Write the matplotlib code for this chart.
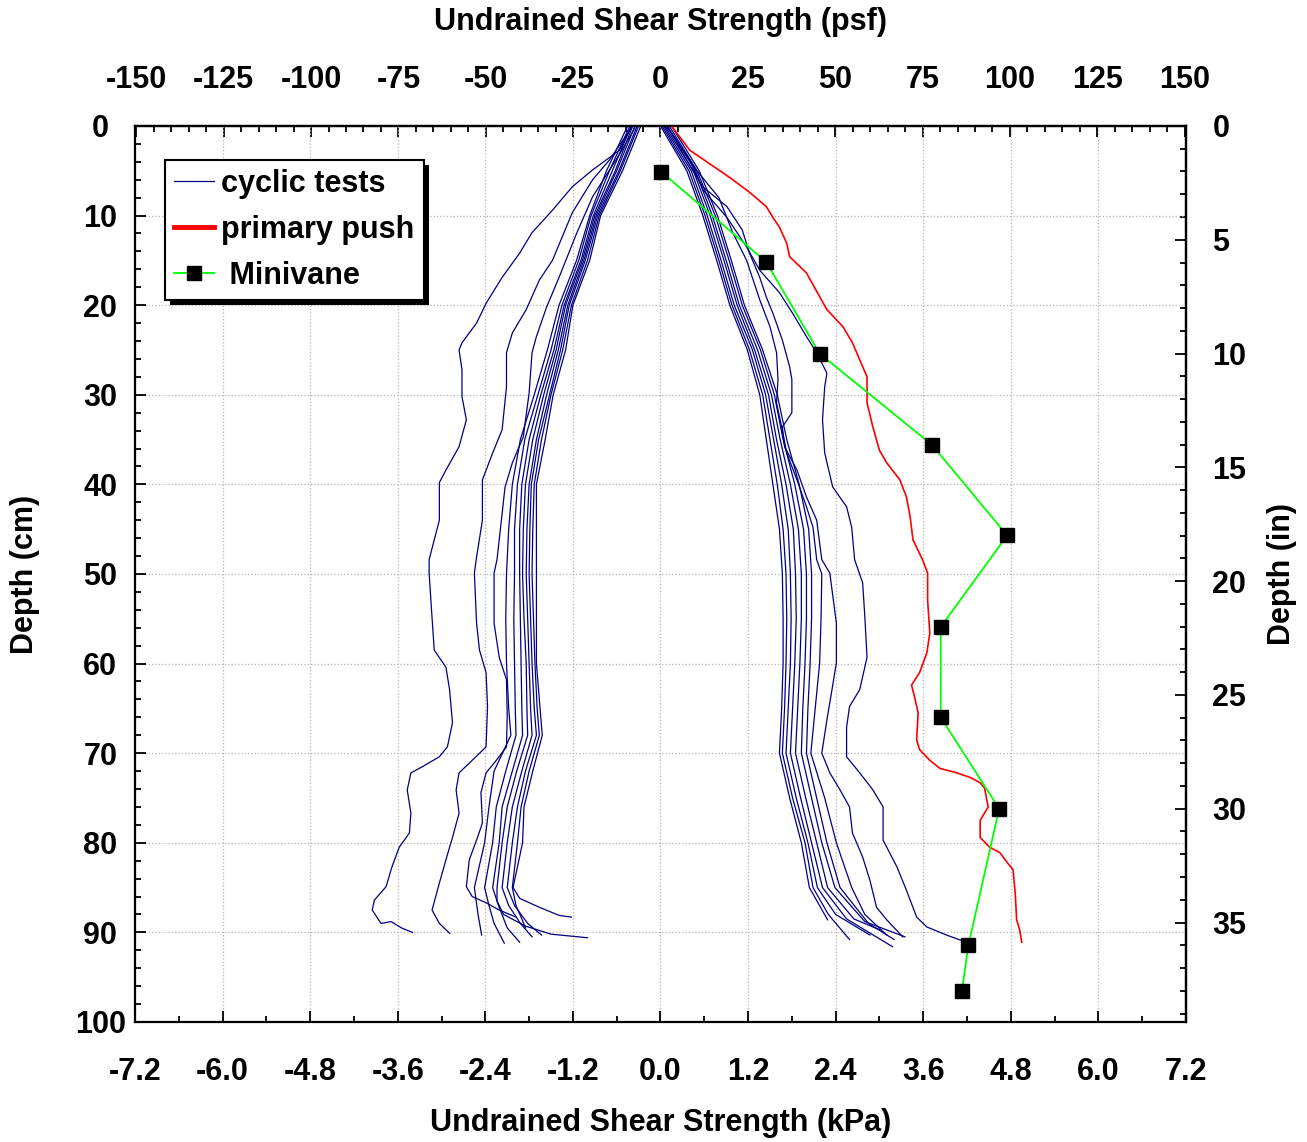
"""Undrained shear strength profiles: cyclic tests, primary push and minivane.

Depth in cm (left) / in (right), strength in kPa (bottom) / psf (top).
Output: out.png
"""

import matplotlib

matplotlib.use("Agg")
import matplotlib.pyplot as plt
from matplotlib.patches import Rectangle
from matplotlib.ticker import MultipleLocator, FormatStrFormatter

KPA_TO_PSF = 20.885
CM_PER_IN = 2.54
NAVY = "#000080"

# ---- primary push (depth cm, kPa) ----
push_depth = [0.1, 2.7, 5.2, 6.0, 7.4, 9.0, 10.2, 11.3, 13.1, 14.6, 16.4, 18.6,
              20.5, 22.4, 24.2, 26.1, 28.0, 30.9, 33.6, 36.2, 37.6, 39.5, 41.4,
              43.6, 46.2, 48.4, 49.9, 52.9, 56.6, 58.8, 61.0, 62.4, 63.7, 65.5,
              68.5, 69.6, 70.8, 71.7, 72.2, 72.7, 73.3, 73.9, 76.0, 77.5, 79.4,
              80.5, 81.1, 82.3, 83.0, 85.6, 88.6, 89.7, 91.1]
push_kpa = [0.16, 0.40, 0.85, 0.99, 1.22, 1.45, 1.54, 1.63, 1.73, 1.77, 2.00, 2.15,
            2.28, 2.50, 2.63, 2.73, 2.83, 2.83, 2.91, 3.00, 3.10, 3.28, 3.37,
            3.42, 3.46, 3.59, 3.66, 3.66, 3.69, 3.65, 3.55, 3.44, 3.48, 3.53,
            3.51, 3.55, 3.69, 3.83, 4.06, 4.24, 4.38, 4.44, 4.49, 4.38, 4.38,
            4.51, 4.65, 4.76, 4.83, 4.86, 4.88, 4.92, 4.95]

# ---- minivane ----
vane_depth = [5.1, 15.2, 25.4, 35.6, 45.7, 55.9, 66.0, 76.2, 91.4, 96.5]
vane_kpa = [0.01, 1.45, 2.18, 3.72, 4.75, 3.84, 3.84, 4.64, 4.22, 4.13]

# ---- cyclic tests, pull side (depth cm, kPa) ----
pull_1 = [(0.1, -0.40), (2.7, -0.56), (4.9, -0.93), (6.8, -1.21), (9.4, -1.48),
          (11.9, -1.76), (14.2, -1.93), (16.9, -2.17), (19.8, -2.39), (22.0, -2.52),
          (24.2, -2.72), (25.0, -2.76), (27.2, -2.72), (30.2, -2.72), (32.8, -2.66),
          (35.8, -2.76), (38.4, -2.94), (39.8, -3.03), (44.0, -3.03), (48.4, -3.17),
          (49.9, -3.17), (53.7, -3.14), (58.5, -3.10), (60.4, -2.94), (62.9, -2.89),
          (66.6, -2.85), (69.3, -2.92), (70.4, -3.03), (71.5, -3.26), (72.2, -3.42),
          (74.1, -3.47), (76.7, -3.42), (78.9, -3.44), (80.5, -3.58), (82.7, -3.68),
          (84.9, -3.76), (86.4, -3.92), (87.5, -3.95), (89.0, -3.83), (88.8, -3.69),
          (89.5, -3.55), (90.0, -3.40)]
pull_2 = [(0.2, -0.40), (3.8, -0.70), (6.0, -0.93), (9.7, -1.21), (15.0, -1.48),
          (17.2, -1.66), (20.5, -1.84), (23.1, -2.03), (25.3, -2.11), (29.1, -2.11),
          (33.9, -2.17), (36.5, -2.30), (39.5, -2.44), (44.0, -2.44), (48.1, -2.52),
          (49.9, -2.55), (55.5, -2.52), (58.5, -2.48), (61.0, -2.39), (64.8, -2.37),
          (69.3, -2.39), (70.8, -2.58), (72.2, -2.76), (74.1, -2.80), (76.7, -2.76),
          (79.4, -2.85), (81.9, -2.94), (84.5, -3.03), (87.5, -3.13), (89.0, -3.03),
          (90.1, -2.89)]
pull_3 = [(0.2, -0.35), (3.0, -0.55), (7.9, -0.93), (12.0, -1.15), (16.9, -1.39),
          (20.2, -1.56), (23.5, -1.70), (25.3, -1.76), (29.8, -1.80), (34.7, -1.88),
          (37.6, -2.03), (40.3, -2.13), (44.0, -2.18), (48.4, -2.24), (49.9, -2.28),
          (55.5, -2.28), (59.3, -2.21), (61.8, -2.11), (65.9, -2.10), (69.3, -2.11),
          (70.8, -2.25), (72.2, -2.39), (74.4, -2.46), (77.8, -2.44), (79.7, -2.52),
          (81.9, -2.62), (84.9, -2.66), (86.0, -2.58), (86.7, -2.39), (87.5, -2.21),
          (88.3, -1.98)]

# tight bundle of pull curves on a shared depth grid, then each one's tail
pull_grid = [0, 5, 10, 15, 20, 25, 30, 35, 40, 45, 50, 55, 60, 65, 68, 72, 76, 80, 85]
pull_b1 = [-0.45, -0.74, -0.97, -1.15, -1.39, -1.55, -1.73, -1.92, -2.03, -2.08,
           -2.11, -2.12, -2.11, -2.08, -2.05, -2.28, -2.35, -2.41, -2.55]
pull_b2 = [-0.42, -0.70, -0.95, -1.12, -1.35, -1.50, -1.68, -1.86, -1.96, -2.00,
           -2.00, -2.01, -2.00, -1.99, -1.98, -2.12, -2.25, -2.30, -2.41]
pull_b3 = [-0.40, -0.66, -0.92, -1.09, -1.32, -1.46, -1.64, -1.80, -1.90, -1.93,
           -1.93, -1.92, -1.91, -1.90, -1.89, -2.03, -2.17, -2.21, -2.30]
pull_b4 = [-0.38, -0.62, -0.90, -1.07, -1.30, -1.43, -1.60, -1.75, -1.85, -1.88,
           -1.89, -1.87, -1.84, -1.83, -1.82, -1.97, -2.10, -2.17, -2.24]
pull_b5 = [-0.35, -0.60, -0.88, -1.05, -1.27, -1.40, -1.56, -1.70, -1.80, -1.83,
           -1.84, -1.82, -1.80, -1.78, -1.76, -1.90, -2.03, -2.10, -2.17]
pull_b6 = [-0.32, -0.57, -0.86, -1.03, -1.25, -1.37, -1.52, -1.67, -1.77, -1.79,
           -1.80, -1.78, -1.76, -1.73, -1.70, -1.85, -1.96, -2.03, -2.10]
pull_b7 = [-0.30, -0.55, -0.84, -1.00, -1.22, -1.34, -1.50, -1.63, -1.73, -1.75,
           -1.76, -1.74, -1.72, -1.69, -1.66, -1.80, -1.91, -1.96, -2.03]
pull_b8 = [-0.27, -0.52, -0.82, -0.97, -1.20, -1.30, -1.47, -1.58, -1.70, -1.70,
           -1.70, -1.70, -1.70, -1.65, -1.62, -1.75, -1.87, -1.89, -2.02]
pull_tails = [
    [(88.0, -2.50), (90.3, -2.45)],
    [(87.0, -2.35), (89.0, -2.28), (91.2, -2.14)],
    [(87.0, -2.22), (89.5, -2.10), (91.1, -1.93)],
    [(86.5, -2.24), (88.0, -2.15), (89.3, -1.85), (90.2, -1.50), (90.6, -1.00)],
    [(87.0, -2.08), (89.0, -1.92), (90.5, -1.76)],
    [(87.0, -2.00), (89.0, -1.82), (90.3, -1.63)],
    [(87.0, -1.98), (88.5, -1.90), (89.5, -1.85)],
    [(86.2, -1.93), (87.2, -1.66), (88.1, -1.39), (88.3, -1.22)],
]

# ---- cyclic tests, push side ----
push_1 = [(0.1, 0.05), (0.4, 0.12), (3.8, 0.40), (7.1, 0.58), (10.2, 0.91),
          (13.5, 1.18), (16.1, 1.36), (18.6, 1.63), (20.9, 1.81), (23.5, 2.00),
          (25.3, 2.14), (27.6, 2.28), (29.1, 2.25), (32.8, 2.22), (36.5, 2.25),
          (40.3, 2.36), (42.5, 2.55), (44.8, 2.62), (48.4, 2.66), (51.0, 2.77),
          (54.8, 2.80), (59.3, 2.83), (62.9, 2.73), (64.8, 2.59), (67.1, 2.55),
          (70.4, 2.55), (72.2, 2.73), (74.1, 2.91), (76.0, 3.05), (79.7, 3.05),
          (82.7, 3.24), (85.3, 3.37), (88.3, 3.51), (89.4, 3.65), (90.3, 3.92),
          (91.1, 4.19)]
push_2 = [(0.1, 0.10), (4.4, 0.40), (6.8, 0.58), (9.0, 0.91), (11.6, 1.12),
          (14.2, 1.22), (16.9, 1.36), (19.1, 1.45), (20.9, 1.54), (23.9, 1.67),
          (26.9, 1.77), (28.3, 1.80), (32.0, 1.80), (33.6, 1.67), (35.8, 1.70),
          (38.4, 1.87), (41.4, 2.00), (44.0, 2.14), (48.4, 2.21), (49.9, 2.32),
          (55.5, 2.41), (59.9, 2.41), (62.9, 2.35), (66.3, 2.28), (70.0, 2.21),
          (72.2, 2.32), (74.1, 2.46), (76.0, 2.59), (78.9, 2.63), (81.6, 2.77),
          (84.2, 2.87), (87.2, 2.96), (88.6, 3.10), (90.5, 3.32)]
push_3 = [(0.0, 0.08), (5.0, 0.50), (8.0, 0.80), (11.9, 0.99), (15.0, 1.18),
          (19.4, 1.36), (22.4, 1.50), (25.3, 1.59), (28.3, 1.61), (30.9, 1.59),
          (33.6, 1.66), (36.5, 1.73), (39.5, 1.87), (42.5, 2.00), (44.8, 2.09),
          (48.4, 2.14), (50.0, 2.21), (55.0, 2.20), (60.0, 2.18), (65.0, 2.12),
          (70.0, 2.06), (75.0, 2.25), (80.0, 2.41), (85.0, 2.62), (88.0, 2.80),
          (90.3, 3.10)]

push_grid = [0, 5, 10, 15, 20, 25, 30, 35, 40, 45, 50, 55, 60, 65, 70, 75, 80, 85]
push_b1 = [0.00, 0.36, 0.58, 0.77, 0.95, 1.19, 1.36, 1.45, 1.54, 1.63, 1.67, 1.68,
           1.68, 1.66, 1.63, 1.77, 1.93, 2.04]
push_b2 = [0.02, 0.39, 0.61, 0.80, 0.98, 1.22, 1.40, 1.50, 1.60, 1.68, 1.72, 1.73,
           1.72, 1.70, 1.67, 1.81, 1.98, 2.09]
push_b3 = [0.04, 0.42, 0.64, 0.83, 1.01, 1.26, 1.44, 1.55, 1.66, 1.75, 1.78, 1.79,
           1.78, 1.75, 1.72, 1.86, 2.02, 2.15]
push_b4 = [0.06, 0.45, 0.68, 0.87, 1.05, 1.29, 1.48, 1.59, 1.72, 1.82, 1.85, 1.86,
           1.84, 1.81, 1.78, 1.92, 2.07, 2.22]
push_b5 = [0.09, 0.48, 0.71, 0.90, 1.08, 1.33, 1.52, 1.64, 1.78, 1.89, 1.93, 1.93,
           1.91, 1.88, 1.85, 1.99, 2.14, 2.29]
push_b6 = [0.12, 0.50, 0.75, 0.94, 1.12, 1.37, 1.56, 1.68, 1.84, 1.96, 2.00, 2.00,
           1.98, 1.95, 1.93, 2.07, 2.21, 2.39]
push_b7 = [0.15, 0.53, 0.78, 0.97, 1.15, 1.40, 1.60, 1.73, 1.90, 2.03, 2.07, 2.07,
           2.05, 2.02, 2.00, 2.14, 2.28, 2.46]
push_tails = [
    [(88.6, 2.29)],
    [(88.0, 2.30), (90.8, 2.59)],
    [(88.0, 2.40), (90.3, 2.87)],
    [(88.5, 2.55), (91.6, 3.18)],
    [(88.5, 2.65), (89.7, 3.00)],
    [(88.8, 2.80), (90.5, 3.35)],
    [(89.0, 2.85), (90.8, 3.20)],
]

kpa_ticks = [-7.2, -6.0, -4.8, -3.6, -2.4, -1.2, 0.0, 1.2, 2.4, 3.6, 4.8, 6.0, 7.2]
psf_ticks = [-150, -125, -100, -75, -50, -25, 0, 25, 50, 75, 100, 125, 150]
cm_ticks = [0, 10, 20, 30, 40, 50, 60, 70, 80, 90, 100]
in_ticks = [0, 5, 10, 15, 20, 25, 30, 35]


def curves():
    out = [pull_1, pull_2, pull_3, push_1, push_2, push_3]
    pulls = [pull_b1, pull_b2, pull_b3, pull_b4, pull_b5, pull_b6, pull_b7, pull_b8]
    for vals, tail in zip(pulls, pull_tails):
        out.append(list(zip(pull_grid, vals)) + tail)
    pushes = [push_b1, push_b2, push_b3, push_b4, push_b5, push_b6, push_b7]
    for vals, tail in zip(pushes, push_tails):
        out.append(list(zip(push_grid, vals)) + tail)
    return out


def main() -> None:
    plt.rcParams["font.family"] = ["Liberation Sans", "DejaVu Sans"]
    plt.rcParams["font.weight"] = "bold"
    plt.rcParams["axes.labelweight"] = "bold"
    plt.rcParams["font.size"] = 22
    plt.rcParams["axes.unicode_minus"] = False

    fig = plt.figure(figsize=(13.07, 11.42), dpi=100)
    ax = fig.add_axes([0.1033, 0.1051, 0.8041, 0.7846])

    for i, c in enumerate(curves()):
        d, k = zip(*c)
        ax.plot(k, d, color=NAVY, lw=0.9, zorder=2,
                label="cyclic tests" if i == 0 else None)
    ax.plot(push_kpa, push_depth, color="#ff0000", lw=1.2, zorder=3,
            label="primary push")
    ax.plot(vane_kpa, vane_depth, color="#00ff00", lw=1.3, marker="s",
            ms=10, mfc="black", mec="black", zorder=4, label=" Minivane")

    ax.set_xlim(-7.2, 7.2)
    ax.set_ylim(100, 0)
    ax.set_xticks(kpa_ticks)
    ax.xaxis.set_major_formatter(FormatStrFormatter("%.1f"))
    ax.xaxis.set_minor_locator(MultipleLocator(0.6))
    ax.set_yticks(cm_ticks)
    ax.yaxis.set_minor_locator(MultipleLocator(2))
    ax.grid(True, which="major", color="#b4b4b4", ls=":", lw=0.9)
    ax.tick_params(which="both", direction="in", top=False, right=False,
                   width=1.3, color="black")
    ax.tick_params(which="major", length=8)
    ax.tick_params(which="minor", length=4)
    ax.tick_params(axis="x", pad=25)
    ax.tick_params(axis="y", pad=25)
    plt.setp(ax.get_yticklabels(), ha="center")
    for s in ax.spines.values():
        s.set_linewidth(1.6)

    top = ax.secondary_xaxis("top", functions=(lambda x: x * KPA_TO_PSF,
                                               lambda x: x / KPA_TO_PSF))
    top.set_xticks(psf_ticks)
    top.xaxis.set_minor_locator(MultipleLocator(5))
    top.tick_params(which="both", direction="in", width=1.3, pad=22)
    top.tick_params(which="major", length=8)
    top.tick_params(which="minor", length=4)
    top.spines["top"].set_linewidth(1.6)

    right = ax.secondary_yaxis("right", functions=(lambda d: d / CM_PER_IN,
                                                   lambda d: d * CM_PER_IN))
    right.set_yticks(in_ticks)
    right.yaxis.set_minor_locator(MultipleLocator(1))
    right.tick_params(which="both", direction="in", width=1.3, pad=19)
    right.tick_params(which="major", length=8)
    right.tick_params(which="minor", length=4)
    right.spines["right"].set_linewidth(1.6)

    # axis titles placed in axes fraction so all four line up with the reference
    ax.text(0.5, -0.1127, "Undrained Shear Strength (kPa)", transform=ax.transAxes,
            ha="center", va="center", fontweight="bold")
    ax.text(0.5, 1.116, "Undrained Shear Strength (psf)", transform=ax.transAxes,
            ha="center", va="center", fontweight="bold")
    ax.text(-0.1047, 0.5, "Depth (cm)", transform=ax.transAxes, rotation=90,
            ha="center", va="center", fontweight="bold")
    ax.text(1.0913, 0.5, "Depth (in)", transform=ax.transAxes, rotation=90,
            ha="center", va="center", fontweight="bold")

    leg = ax.legend(loc="upper left", bbox_to_anchor=(0.0285, 0.962),
                    borderaxespad=0, fancybox=False, framealpha=1,
                    edgecolor="black", handlelength=1.3, handletextpad=0.25,
                    labelspacing=0.52, borderpad=0.3)
    leg.get_frame().set_linewidth(1.5)
    leg.get_lines()[1].set_linewidth(3.5)
    leg.set_zorder(6)

    # solid black drop shadow offset right/down
    fig.canvas.draw()
    bb = leg.get_window_extent().transformed(ax.transAxes.inverted())
    dx, dy = 5 / 1051, 5 / 896
    ax.add_patch(Rectangle((bb.x0 + dx, bb.y0 - dy), bb.width, bb.height,
                           transform=ax.transAxes, fc="black", ec="none",
                           zorder=5.5, clip_on=False))

    fig.savefig("out.png", dpi=100)


if __name__ == "__main__":
    main()
